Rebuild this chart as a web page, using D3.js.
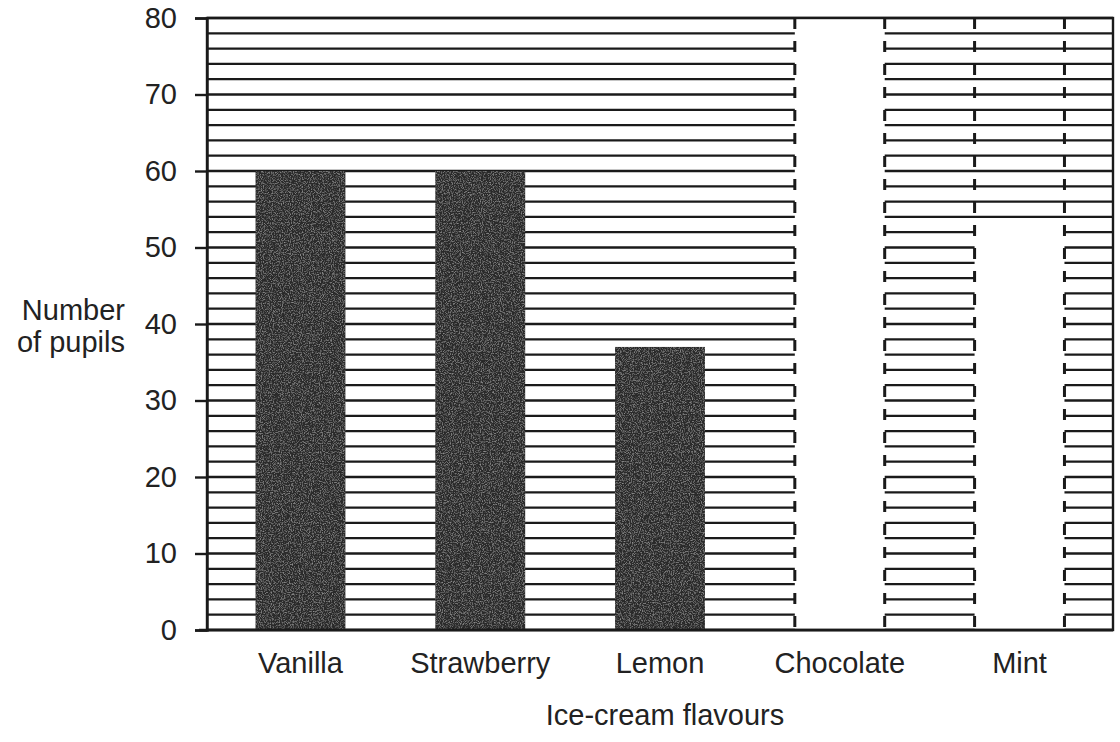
<!DOCTYPE html>
<html>
<head>
<meta charset="utf-8">
<script src="https://cdn.jsdelivr.net/npm/d3@7"></script>
<style>
  body { margin: 0; background: #fff; }
  text { font-family: "Liberation Sans", Arial, sans-serif; fill: #222; }
</style>
</head>
<body>
<svg id="chart"></svg>
<script>
// data
const flavours = ['Vanilla', 'Strawberry', 'Lemon', 'Chocolate', 'Mint'];
const pupils = [60, 60, 37, 80, 53];
// Chocolate and Mint are left as blank (white) columns on the worksheet
const blankBars = ['Chocolate', 'Mint'];
const yTicks = [0, 10, 20, 30, 40, 50, 60, 70, 80];
const gridStep = 2;

const width = 1120, height = 742;
const margin = {top: 18, right: 7, bottom: 112, left: 207};
const innerW = width - margin.left - margin.right;
const innerH = height - margin.top - margin.bottom;
const fontSize = '29px';

const svg = d3.select('#chart')
    .attr('width', width)
    .attr('height', height);

// grainy toner texture for the printed bars
const defs = svg.append('defs');
const grain = defs.append('filter').attr('id', 'grain')
    .attr('x', 0).attr('y', 0).attr('width', 1).attr('height', 1);
grain.append('feTurbulence')
    .attr('type', 'fractalNoise')
    .attr('baseFrequency', 0.9)
    .attr('numOctaves', 2)
    .attr('seed', 4)
    .attr('result', 'noise');
grain.append('feColorMatrix')
    .attr('in', 'noise')
    .attr('type', 'matrix')
    .attr('values', '0 0 0 0 0.42  0 0 0 0 0.42  0 0 0 0 0.42  1.6 0 0 0 -0.75')
    .attr('result', 'dots');
grain.append('feComposite').attr('in', 'dots').attr('in2', 'SourceGraphic').attr('operator', 'in').attr('result', 'd2');
grain.append('feMerge').call(m => {
  m.append('feMergeNode').attr('in', 'SourceGraphic');
  m.append('feMergeNode').attr('in', 'd2');
});

const chart = svg.append('g')
    .attr('transform', `translate(${margin.left},${margin.top})`);

const x = d3.scaleBand()
    .domain(flavours)
    .range([0, innerW])
    .paddingInner(0.5)
    .paddingOuter(0.27);

const y = d3.scaleLinear()
    .domain([0, 80])
    .range([innerH, 0]);

// horizontal grid every 2 pupils
const gridVals = d3.range(0, 80 + gridStep, gridStep);
chart.append('g').attr('class', 'grid')
  .selectAll('line')
  .data(gridVals)
  .join('line')
    .attr('x1', 0)
    .attr('x2', innerW)
    .attr('y1', d => y(d))
    .attr('y2', d => y(d))
    .attr('stroke', '#1a1a1a')
    .attr('stroke-width', d => d % 10 === 0 ? 2.6 : 2.2);

// bars
chart.selectAll('.bar')
  .data(flavours)
  .join('rect')
    .attr('class', 'bar')
    .attr('x', d => x(d))
    .attr('y', (d, i) => y(pupils[i]))
    .attr('width', x.bandwidth())
    .attr('height', (d, i) => innerH - y(pupils[i]))
    .attr('fill', d => blankBars.includes(d) ? '#fff' : '#2c2c2c')
    .attr('filter', d => blankBars.includes(d) ? null : 'url(#grain)');

// dashed outlines of the blank columns, running the full height
blankBars.forEach(name => {
  [x(name), x(name) + x.bandwidth()].forEach(px => {
    chart.append('line')
        .attr('x1', px).attr('x2', px)
        .attr('y1', 0).attr('y2', innerH)
        .attr('stroke', '#1a1a1a')
        .attr('stroke-width', 3)
        .attr('stroke-dasharray', '11,12');
  });
});

// frame
chart.append('rect')
    .attr('x', 0).attr('y', 0)
    .attr('width', innerW).attr('height', innerH)
    .attr('fill', 'none')
    .attr('stroke', '#1a1a1a')
    .attr('stroke-width', 2.4);

// y axis
const yAxis = d3.axisLeft(y)
    .tickValues(yTicks)
    .tickSize(12)
    .tickPadding(18);
chart.append('g')
    .call(yAxis)
    .call(g => g.select('.domain').attr('stroke', '#1a1a1a').attr('stroke-width', 2.4))
    .call(g => g.selectAll('.tick line').attr('stroke', '#1a1a1a').attr('stroke-width', 2.4))
    .call(g => g.selectAll('.tick text')
        .style('font-size', fontSize)
        .style('font-family', '"Liberation Sans", Arial, sans-serif')
        .attr('fill', '#222'));

// bottom axis line extends a little to the left
chart.append('line')
    .attr('x1', -8).attr('x2', innerW)
    .attr('y1', innerH).attr('y2', innerH)
    .attr('stroke', '#1a1a1a')
    .attr('stroke-width', 2.6);

// x labels
const xAxis = d3.axisBottom(x).tickSize(0).tickPadding(22);
chart.append('g')
    .attr('transform', `translate(0,${innerH})`)
    .call(xAxis)
    .call(g => g.select('.domain').remove())
    .call(g => g.selectAll('.tick text')
        .style('font-size', fontSize)
        .style('font-family', '"Liberation Sans", Arial, sans-serif')
        .attr('fill', '#222'));

// axis titles
svg.append('text')
    .attr('x', 665)
    .attr('y', 725)
    .attr('text-anchor', 'middle')
    .style('font-size', fontSize)
    .text('Ice-cream flavours');

svg.append('text')
    .attr('text-anchor', 'end')
    .style('font-size', fontSize)
    .call(t => {
      t.append('tspan').attr('x', 125).attr('y', 320).text('Number');
      t.append('tspan').attr('x', 125).attr('y', 352).text('of pupils');
    });
</script>
</body>
</html>
